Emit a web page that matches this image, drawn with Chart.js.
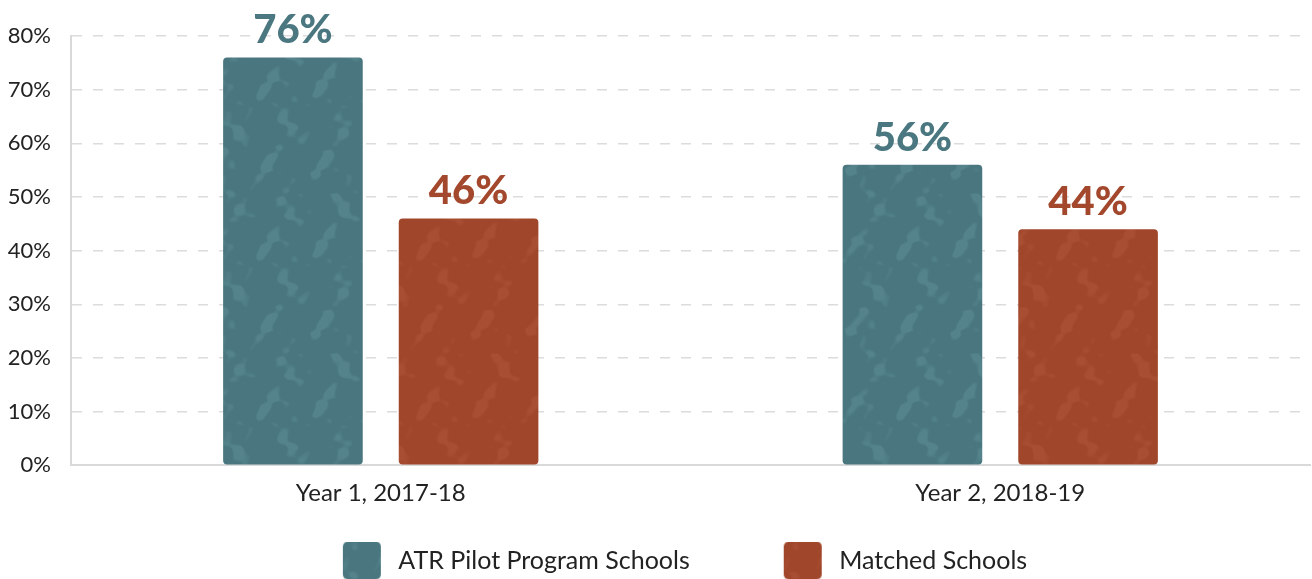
<!DOCTYPE html>
<html>
<head>
<meta charset="utf-8">
<script src="https://cdn.jsdelivr.net/npm/chart.js@4.4.1/dist/chart.umd.min.js"></script>
<style>
  html, body { margin: 0; padding: 0; background: #fff; }
</style>
</head>
<body>
<canvas id="myChart" width="1312" height="579"></canvas>
<script>
// data
const categories = ['Year 1, 2017-18', 'Year 2, 2018-19'];
const seriesNames = ['ATR Pilot Program Schools', 'Matched Schools'];
const pilotValues = [76, 56];      // ATR pilot schools (%)
const matchedValues = [46, 44];    // matched schools (%)
const yTickValues = [0, 10, 20, 30, 40, 50, 60, 70, 80];

const TEAL = [74, 119, 127];
const TEAL_LIGHT = [84, 131, 139];
const RUST = [160, 70, 43];
const RUST_LIGHT = [168, 78, 50];

// mottled fill, tile is periodic so no seams
function makeTexture(base, light) {
    const size = 160;
    const c = document.createElement('canvas');
    c.width = size; c.height = size;
    const g = c.getContext('2d');
    const img = g.createImageData(size, size);
    const f = 2 * Math.PI / size;
    for (let y = 0; y < size; y++) {
        for (let x = 0; x < size; x++) {
            const n = Math.sin(3 * f * x + 1.7 * Math.sin(2 * f * y + 1.3))
                    + Math.sin(4 * f * y + 1.9 * Math.sin(3 * f * x + 0.4))
                    + 0.7 * Math.sin(5 * f * (x - y) + 1.2 * Math.sin(7 * f * y))
                    + 0.5 * Math.sin(9 * f * x + 6 * f * y);
            let t = (n - 0.7) / 0.9;
            t = Math.max(0, Math.min(1, t));
            const i = (y * size + x) * 4;
            for (let k = 0; k < 3; k++) img.data[i + k] = Math.round(base[k] + (light[k] - base[k]) * t);
            img.data[i + 3] = 255;
        }
    }
    g.putImageData(img, 0, 0);
    return c;
}

const tealTile = makeTexture(TEAL, TEAL_LIGHT);
const rustTile = makeTexture(RUST, RUST_LIGHT);
const ctx = document.getElementById('myChart').getContext('2d');
const tealFill = ctx.createPattern(tealTile, 'repeat');
const rustFill = ctx.createPattern(rustTile, 'repeat');

// legend swatch: transparent lead-in on the left, rounded box on the right
const SWATCH_LEAD = 60, SWATCH = 38, SWATCH_TAIL = 5;
function makeSwatch(tile) {
    const c = document.createElement('canvas');
    c.width = SWATCH_LEAD + SWATCH + SWATCH_TAIL;
    c.height = SWATCH;
    const g = c.getContext('2d');
    g.fillStyle = g.createPattern(tile, 'repeat');
    g.beginPath();
    g.roundRect(SWATCH_LEAD, 0, SWATCH, SWATCH, 5);
    g.fill();
    return c;
}
const swatches = [makeSwatch(tealTile), makeSwatch(rustTile)];

// bold value labels above each bar
const valueLabels = {
    id: 'valueLabels',
    afterDatasetsDraw(chart) {
        const c = chart.ctx;
        c.save();
        c.font = '900 40px Lato';
        c.textAlign = 'center';
        c.textBaseline = 'alphabetic';
        chart.data.datasets.forEach((ds, di) => {
            const meta = chart.getDatasetMeta(di);
            meta.data.forEach((bar, i) => {
                c.fillStyle = ds.labelColor;
                c.fillText(ds.data[i] + '%', bar.x, bar.y - 14);
            });
        });
        c.restore();
    }
};

new Chart(ctx, {
    type: 'bar',
    data: {
        labels: categories,
        datasets: [{
            label: seriesNames[0],
            data: pilotValues,
            backgroundColor: tealFill,
            labelColor: '#4b7880',
            borderRadius: 4,
            borderSkipped: false,
            categoryPercentage: 0.567,
            barPercentage: 0.795
        }, {
            label: seriesNames[1],
            data: matchedValues,
            backgroundColor: rustFill,
            labelColor: '#a3482c',
            borderRadius: 4,
            borderSkipped: false,
            categoryPercentage: 0.567,
            barPercentage: 0.795
        }]
    },
    options: {
        responsive: false,
        animation: false,
        layout: {
            padding: { top: 36, left: 0, right: 2, bottom: -4 }
        },
        scales: {
            x: {
                grid: { display: false },
                border: { display: true, color: '#d9d9d9', width: 2 },
                ticks: {
                    color: '#222',
                    padding: 6,
                    font: { family: 'Lato', size: 24 }
                }
            },
            y: {
                min: 0,
                max: 80,
                afterBuildTicks: axis => { axis.ticks = yTickValues.map(v => ({ value: v })); },
                afterFit: axis => { axis.width = 71; },
                grid: {
                    color: '#dcdcdc',
                    lineWidth: 1.5,
                    drawTicks: false
                },
                border: { display: true, color: '#d9d9d9', width: 2, dash: [10, 11] },
                ticks: {
                    color: '#222',
                    padding: 20,
                    font: { family: 'Lato', size: 22 },
                    callback: v => v + '%'
                }
            }
        },
        plugins: {
            tooltip: { enabled: false },
            legend: {
                position: 'bottom',
                labels: {
                    usePointStyle: true,
                    pointStyleWidth: SWATCH_LEAD + SWATCH + SWATCH_TAIL,
                    padding: 34,
                    color: '#222',
                    font: { family: 'Lato', size: 25 },
                    generateLabels: chart =>
                        Chart.defaults.plugins.legend.labels.generateLabels(chart)
                            .map((item, i) => Object.assign(item, { pointStyle: swatches[i] }))
                }
            }
        }
    },
    plugins: [valueLabels]
});
</script>
</body>
</html>
